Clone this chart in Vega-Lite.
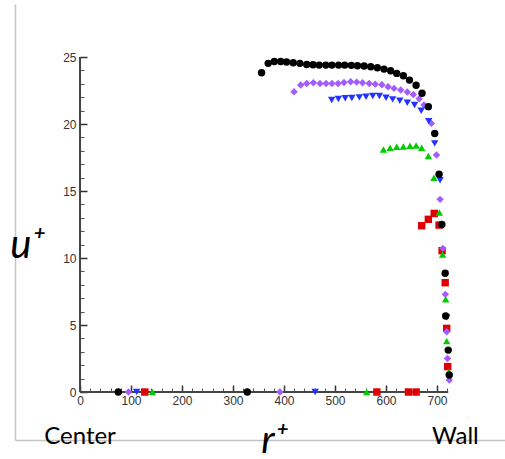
{
  "$schema": "https://vega.github.io/schema/vega-lite/v6.json",
  "autosize": "none",
  "width": 490,
  "height": 436,
  "padding": {"left": 15, "top": 4, "right": 0, "bottom": 19},
  "background": "white",
  "config": {"view": {"stroke": null}},
  "resolve": {"axis": {"x": "independent", "y": "independent"}},
  "layer": [
    {
      "data": {"values": [
        {"r1": 0, "r2": 722, "u1": 0, "u2": 0},
        {"r1": 0, "r2": 0, "u1": 0, "u2": 25}
      ]},
      "mark": {"type": "rule", "color": "#444444", "strokeWidth": 2},
      "encoding": {
        "x": {"field": "r1", "type": "quantitative", "scale": {"domain": [-127.5, 833.3], "nice": false, "zero": false},
          "axis": {"orient": "bottom", "domain": true, "domainColor": "#c4c4c4", "domainWidth": 1.5, "ticks": false, "labels": false, "grid": false,
            "title": "r⁺", "titleFont": "Lato", "titleFontStyle": "italic", "titleFontWeight": "normal", "titleFontSize": 39, "titleColor": "#000000",
            "titleX": 259, "titleY": 12, "titleAlign": "center", "titleBaseline": "alphabetic"}},
        "x2": {"field": "r2"},
        "y": {"field": "u1", "type": "quantitative", "scale": {"domain": [-3.58, 28.96], "nice": false, "zero": false},
          "axis": {"orient": "left", "domain": true, "domainColor": "#c4c4c4", "domainWidth": 1.5, "ticks": false, "labels": false, "grid": false,
            "title": "u⁺", "titleFont": "Lato", "titleFontStyle": "italic", "titleFontWeight": "normal", "titleFontSize": 40, "titleColor": "#000000",
            "titleAngle": 0, "titleX": 12, "titleY": 253, "titleAlign": "center", "titleBaseline": "alphabetic"}},
        "y2": {"field": "u2"}
      }
    },
    {
      "data": {"values": [
        {"s": "red", "r": 670, "u": 12.41}, {"s": "red", "r": 683, "u": 12.89}, {"s": "red", "r": 694.5, "u": 13.33}, {"s": "red", "r": 704, "u": 12.46},
        {"s": "red", "r": 710, "u": 10.55}, {"s": "red", "r": 716, "u": 8.16}, {"s": "red", "r": 719, "u": 4.75}, {"s": "red", "r": 721, "u": 1.9},
        {"s": "red", "r": 127, "u": 0}, {"s": "red", "r": 582, "u": 0}, {"s": "red", "r": 644, "u": 0}, {"s": "red", "r": 659, "u": 0},
        {"s": "green", "r": 595, "u": 18.1}, {"s": "green", "r": 608, "u": 18.23}, {"s": "green", "r": 621, "u": 18.3}, {"s": "green", "r": 634, "u": 18.33},
        {"s": "green", "r": 647, "u": 18.38}, {"s": "green", "r": 659, "u": 18.4}, {"s": "green", "r": 670, "u": 18.23}, {"s": "green", "r": 683, "u": 17.61},
        {"s": "green", "r": 694, "u": 15.99}, {"s": "green", "r": 704.5, "u": 13.4}, {"s": "green", "r": 711, "u": 10.27}, {"s": "green", "r": 717, "u": 6.92},
        {"s": "green", "r": 719, "u": 3.8}, {"s": "green", "r": 723.5, "u": 1.5}, {"s": "green", "r": 142, "u": 0}, {"s": "green", "r": 562, "u": 0},
        {"s": "blue", "r": 493.5, "u": 21.79}, {"s": "blue", "r": 506.5, "u": 21.87}, {"s": "blue", "r": 520, "u": 21.92}, {"s": "blue", "r": 533, "u": 21.94},
        {"s": "blue", "r": 547.7, "u": 21.99}, {"s": "blue", "r": 560.8, "u": 22.04}, {"s": "blue", "r": 574, "u": 22.09}, {"s": "blue", "r": 587, "u": 22.09},
        {"s": "blue", "r": 600, "u": 21.96}, {"s": "blue", "r": 613, "u": 21.84}, {"s": "blue", "r": 627, "u": 21.74}, {"s": "blue", "r": 641.8, "u": 21.59},
        {"s": "blue", "r": 656, "u": 21.42}, {"s": "blue", "r": 669, "u": 20.99}, {"s": "blue", "r": 683.7, "u": 20.22}, {"s": "blue", "r": 695.5, "u": 18.56},
        {"s": "blue", "r": 706, "u": 15.8}, {"s": "blue", "r": 719, "u": 5.57}, {"s": "blue", "r": 111, "u": 0}, {"s": "blue", "r": 461, "u": 0},
        {"s": "purple", "r": 419.6, "u": 22.41}, {"s": "purple", "r": 432.7, "u": 22.91}, {"s": "purple", "r": 444.5, "u": 23.03}, {"s": "purple", "r": 457.5, "u": 23.08},
        {"s": "purple", "r": 470.6, "u": 23.03}, {"s": "purple", "r": 482.4, "u": 23.03}, {"s": "purple", "r": 494, "u": 23.03}, {"s": "purple", "r": 506, "u": 23.03},
        {"s": "purple", "r": 517.6, "u": 23.1}, {"s": "purple", "r": 530.7, "u": 23.16}, {"s": "purple", "r": 542.5, "u": 23.13}, {"s": "purple", "r": 554, "u": 23.08},
        {"s": "purple", "r": 567, "u": 23.03}, {"s": "purple", "r": 579, "u": 22.98}, {"s": "purple", "r": 592, "u": 22.93}, {"s": "purple", "r": 604, "u": 22.78},
        {"s": "purple", "r": 615.7, "u": 22.66}, {"s": "purple", "r": 628.8, "u": 22.54}, {"s": "purple", "r": 641.8, "u": 22.39}, {"s": "purple", "r": 653.6, "u": 22.21},
        {"s": "purple", "r": 665, "u": 21.89}, {"s": "purple", "r": 674.5, "u": 21.42}, {"s": "purple", "r": 689, "u": 20.05}, {"s": "purple", "r": 699, "u": 17.69},
        {"s": "purple", "r": 706, "u": 14.38}, {"s": "purple", "r": 711.5, "u": 10.72}, {"s": "purple", "r": 716.3, "u": 7.29}, {"s": "purple", "r": 719, "u": 4.5},
        {"s": "purple", "r": 720.5, "u": 2.5}, {"s": "purple", "r": 724, "u": 0.9}, {"s": "purple", "r": 95, "u": 0}, {"s": "purple", "r": 392, "u": 0},
        {"s": "black", "r": 356, "u": 23.83}, {"s": "black", "r": 369, "u": 24.53}, {"s": "black", "r": 381, "u": 24.67}, {"s": "black", "r": 393.5, "u": 24.67},
        {"s": "black", "r": 405, "u": 24.63}, {"s": "black", "r": 418, "u": 24.58}, {"s": "black", "r": 431, "u": 24.53}, {"s": "black", "r": 444.5, "u": 24.45},
        {"s": "black", "r": 457, "u": 24.43}, {"s": "black", "r": 469, "u": 24.4}, {"s": "black", "r": 482, "u": 24.4}, {"s": "black", "r": 494, "u": 24.4},
        {"s": "black", "r": 507, "u": 24.4}, {"s": "black", "r": 519, "u": 24.4}, {"s": "black", "r": 532, "u": 24.38}, {"s": "black", "r": 544, "u": 24.35},
        {"s": "black", "r": 557, "u": 24.33}, {"s": "black", "r": 570, "u": 24.28}, {"s": "black", "r": 583, "u": 24.2}, {"s": "black", "r": 596, "u": 24.1},
        {"s": "black", "r": 609, "u": 23.98}, {"s": "black", "r": 621, "u": 23.78}, {"s": "black", "r": 634, "u": 23.6}, {"s": "black", "r": 646, "u": 23.28},
        {"s": "black", "r": 659, "u": 22.9}, {"s": "black", "r": 670.6, "u": 22.3}, {"s": "black", "r": 683, "u": 21.3}, {"s": "black", "r": 695.5, "u": 19.3},
        {"s": "black", "r": 704, "u": 16.25}, {"s": "black", "r": 709.5, "u": 12.5}, {"s": "black", "r": 716, "u": 8.86}, {"s": "black", "r": 717, "u": 5.67},
        {"s": "black", "r": 722, "u": 3.13}, {"s": "black", "r": 724, "u": 1.27}, {"s": "black", "r": 75, "u": 0}, {"s": "black", "r": 328, "u": 0}
      ]},
      "mark": {"type": "point", "filled": true, "opacity": 1, "strokeWidth": 0},
      "encoding": {
        "x": {"field": "r", "type": "quantitative", "scale": {"domain": [-127.5, 833.3], "nice": false, "zero": false},
          "axis": {"orient": "bottom", "offset": -48, "domain": false, "grid": false, "values": [0, 100, 200, 300, 400, 500, 600, 700],
            "tickSize": -7, "tickColor": "#333333", "tickWidth": 1.5, "labelPadding": 10, "labelFont": "Liberation Sans", "labelFontSize": 12,
            "labelColor": "#333333", "labelFlush": false, "labelOverlap": false, "title": null}},
        "y": {"field": "u", "type": "quantitative", "scale": {"domain": [-3.58, 28.96], "nice": false, "zero": false},
          "axis": {"orient": "left", "offset": -65, "domain": false, "grid": false, "values": [0, 5, 10, 15, 20, 25],
            "tickSize": -7, "tickColor": "#333333", "tickWidth": 1.5, "labelPadding": 11, "labelFont": "Liberation Sans", "labelFontSize": 12,
            "labelColor": "#333333", "labelFlush": false, "labelOverlap": false, "title": null}},
        "color": {"field": "s", "type": "nominal", "legend": null,
          "scale": {"domain": ["black", "purple", "blue", "green", "red"], "range": ["#000000", "#a45cff", "#2233ff", "#00cc00", "#e00000"]}},
        "shape": {"field": "s", "type": "nominal", "legend": null,
          "scale": {"domain": ["black", "purple", "blue", "green", "red"], "range": ["circle", "diamond", "triangle-down", "triangle-up", "square"]}},
        "size": {"field": "s", "type": "nominal", "legend": null,
          "scale": {"domain": ["black", "purple", "blue", "green", "red"], "range": [55, 55, 45, 40, 34]}},
        "order": {"field": "s", "sort": "descending"}
      }
    },
    {
      "data": {"values": [
        {"label": "Center", "r": 0},
        {"label": "Wall", "r": 736}
      ]},
      "mark": {"type": "text", "font": "Lato", "fontSize": 24, "color": "#000000", "align": "center", "baseline": "alphabetic"},
      "encoding": {
        "x": {"field": "r", "type": "quantitative", "scale": {"domain": [-127.5, 833.3], "nice": false, "zero": false},
          "axis": {"orient": "bottom", "offset": -48, "domain": false, "grid": false, "labels": false, "title": null,
            "values": [20, 40, 60, 80, 120, 140, 160, 180, 220, 240, 260, 280, 320, 340, 360, 380, 420, 440, 460, 480, 520, 540, 560, 580, 620, 640, 660, 680, 720],
            "tickSize": -4, "tickColor": "#555555", "tickWidth": 1}},
        "y": {"datum": -3.85, "type": "quantitative", "scale": {"domain": [-3.58, 28.96], "nice": false, "zero": false},
          "axis": {"orient": "left", "offset": -65, "domain": false, "grid": false, "labels": false, "title": null,
            "values": [1, 2, 3, 4, 6, 7, 8, 9, 11, 12, 13, 14, 16, 17, 18, 19, 21, 22, 23, 24],
            "tickSize": -4, "tickColor": "#555555", "tickWidth": 1}},
        "text": {"field": "label"}
      }
    }
  ]
}
